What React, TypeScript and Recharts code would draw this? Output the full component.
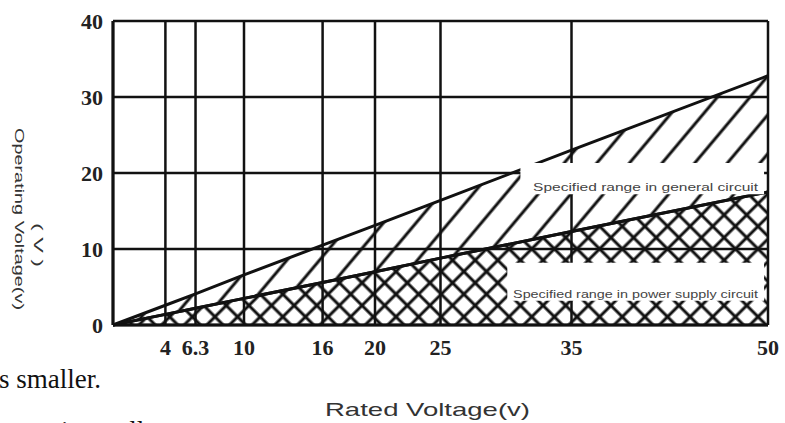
import { ComposedChart, Area, XAxis, YAxis, CartesianGrid, ReferenceArea } from "recharts";

// rated voltage (x) and the top of each specified range (operating voltage, y)
const ratedVoltage = [0, 4, 6.3, 10, 16, 20, 25, 35, 50];
const generalUpper = [0, 2.6, 4.1, 6.6, 10.5, 13.1, 16.4, 23, 32.8];
const powerUpper = [0, 1.4, 2.2, 3.5, 5.6, 7, 8.8, 12.3, 17.5];

const xTicks = [4, 6.3, 10, 16, 20, 25, 35, 50];
const yTicks = [0, 10, 20, 30, 40];

const generalLabel = "Specified range in general circuit";
const powerLabel = "Specified range in power supply circuit";

const data = ratedVoltage.map((v, i) => ({
  rated: v,
  general: [powerUpper[i], generalUpper[i]],
  power: powerUpper[i],
}));

const INK = "#111";

const BandLabel = ({ viewBox, text, len }: any) => {
  if (!viewBox) return null;
  const { x, y, width, height } = viewBox;
  return (
    <text
      x={x + width - 6 - len}
      y={y + height - 3}
      fontFamily="Liberation Sans, Arial, sans-serif"
      fontSize={11}
      fill="#444"
      textLength={len}
      lengthAdjust="spacingAndGlyphs"
    >
      {text}
    </text>
  );
};

export default function App() {
  return (
    <div style={{ position: "absolute", left: 0, top: 0, width: 785, height: 423, overflow: "hidden", background: "#fff" }}>
      <ComposedChart width={785} height={423} data={data} margin={{ top: 21, right: 17, left: 53, bottom: 58 }}>
        <defs>
          <pattern id="diag" patternUnits="userSpaceOnUse" width={25} height={25} patternTransform="rotate(40)">
            <line x1={12} y1={0} x2={12} y2={25} stroke={INK} strokeWidth={3} />
          </pattern>
          <pattern id="cross" patternUnits="userSpaceOnUse" width={16} height={16} patternTransform="rotate(45)">
            <line x1={8} y1={0} x2={8} y2={16} stroke={INK} strokeWidth={3} />
            <line x1={0} y1={8} x2={16} y2={8} stroke={INK} strokeWidth={3} />
          </pattern>
        </defs>
        <CartesianGrid stroke={INK} strokeWidth={2.5} />
        <XAxis
          dataKey="rated"
          type="number"
          domain={[0, 50]}
          ticks={xTicks}
          interval={0}
          height={40}
          tickSize={0}
          tickMargin={14}
          axisLine={{ stroke: INK, strokeWidth: 3 }}
          tick={{ fontFamily: "Liberation Serif, serif", fontSize: 22, fontWeight: "bold", fill: "#222" }}
        />
        <YAxis
          type="number"
          domain={[0, 40]}
          ticks={yTicks}
          width={60}
          tickSize={0}
          tickMargin={10}
          axisLine={{ stroke: INK, strokeWidth: 3 }}
          tick={{ fontFamily: "Liberation Serif, serif", fontSize: 22, fontWeight: "bold", fill: "#222" }}
        />
        <Area type="linear" dataKey="general" stroke={INK} strokeWidth={3} fill="url(#diag)" fillOpacity={1} isAnimationActive={false} />
        <Area type="linear" dataKey="power" stroke={INK} strokeWidth={3} fill="url(#cross)" fillOpacity={1} isAnimationActive={false} />
        <ReferenceArea
          x1={31.1}
          x2={49.7}
          y1={17.2}
          y2={21.3}
          fill="#fff"
          fillOpacity={1}
          stroke="none"
          label={<BandLabel text={generalLabel} len={225} />}
        />
        <ReferenceArea
          x1={30.1}
          x2={49.7}
          y1={3.2}
          y2={8.2}
          fill="#fff"
          fillOpacity={1}
          stroke="none"
          label={<BandLabel text={powerLabel} len={245} />}
        />
      </ComposedChart>
      <svg width={785} height={423} style={{ position: "absolute", left: 0, top: 0, pointerEvents: "none" }}>
        <text
          transform="translate(15,128) rotate(90)"
          fontFamily="Liberation Sans, Arial, sans-serif"
          fontSize={12.5}
          fill="#333"
          textLength={182}
          lengthAdjust="spacingAndGlyphs"
        >
          Operating Voltage(v)
        </text>
        <text
          transform="translate(34,223) rotate(90)"
          fontFamily="Liberation Sans, Arial, sans-serif"
          fontSize={13}
          fill="#333"
          textLength={44}
          lengthAdjust="spacingAndGlyphs"
        >
          ( V )
        </text>
        <text
          x={325}
          y={416}
          fontFamily="Liberation Sans, Arial, sans-serif"
          fontSize={19}
          fill="#333"
          textLength={205}
          lengthAdjust="spacingAndGlyphs"
        >
          Rated Voltage(v)
        </text>
        <text x={-1} y={388} fontFamily="Liberation Serif, serif" fontSize={27} fill="#111">
          s smaller.
        </text>
        <text x={61} y={440} fontFamily="Liberation Serif, serif" fontSize={27} fill="#111">
          is smaller
        </text>
      </svg>
    </div>
  );
}
